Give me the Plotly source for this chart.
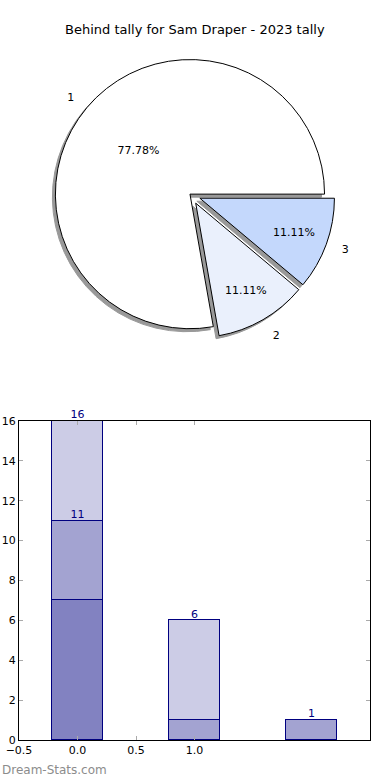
import plotly.graph_objects as go

# ---- data ----
pie_labels = ["1", "2", "3"]
pie_values = [7, 1, 1]
pie_colors = ["#FFFFFF", "#EAF0FC", "#C4D8FC"]
pie_pull = [0.01, 0.07, 0.07]

bar_x = [0, 1, 2]
seg_dark = [7, 0, 0]
seg_mid = [4, 1, 1]
seg_light = [5, 5, 0]
label_x = [0, 0, 1, 2]
label_y = [16, 11, 6, 1]
label_text = ["16", "11", "6", "1"]

x_tickvals = [-0.5, 0.0, 0.5, 1.0]
x_ticktext = ["\u22120.5", "0.0", "0.5", "1.0"]
y_tickvals = [0, 2, 4, 6, 8, 10, 12, 14, 16]

W, H = 390, 780
FONT = "DejaVu Sans"

def fx(px):
    return px / W

def fy(py):
    return 1 - py / H

fig = go.Figure()

# pie geometry (pixels)
cx, cy, half = 191, 195, 144
dom_x = [fx(cx - half), fx(cx + half)]
dom_y = [fy(cy + half), fy(cy - half)]
lh = half * 1.09
lab_x = [fx(cx - lh), fx(cx + lh)]
lab_y = [fy(cy + lh), fy(cy - lh)]
sh = 3
ROT = 170
# shadow
fig.add_trace(go.Pie(
    labels=pie_labels, values=pie_values, sort=False, direction="counterclockwise",
    rotation=ROT, pull=pie_pull,
    marker=dict(colors=["#999999"] * 3, line=dict(color="#999999", width=1)),
    textinfo="none", hoverinfo="skip", showlegend=False,
    domain=dict(x=[fx(cx - half - sh), fx(cx + half - sh)], y=[fy(cy + half + sh), fy(cy - half + sh)]),
))
# main pie, percentages inside
fig.add_trace(go.Pie(
    labels=pie_labels, values=pie_values, sort=False, direction="counterclockwise",
    rotation=ROT, pull=pie_pull,
    marker=dict(colors=pie_colors, line=dict(color="#000000", width=1)),
    texttemplate="%{percent:.2%}", textposition="inside", insidetextorientation="horizontal",
    textfont=dict(family=FONT, size=11, color="#000000"),
    showlegend=False, domain=dict(x=dom_x, y=dom_y),
))
# outside labels
fig.add_trace(go.Pie(
    labels=pie_labels, values=pie_values, sort=False, direction="counterclockwise",
    rotation=ROT, pull=pie_pull,
    marker=dict(colors=["rgba(0,0,0,0)"] * 3, line=dict(width=0)),
    textinfo="label", textposition="outside",
    textfont=dict(family=FONT, size=11, color="#000000"),
    hoverinfo="skip", showlegend=False, domain=dict(x=lab_x, y=lab_y),
))

# stacked bars
for vals, col in [(seg_dark, "rgba(0,0,128,0.49)"), (seg_mid, "rgba(0,0,128,0.36)"), (seg_light, "rgba(0,0,128,0.2)")]:
    fig.add_trace(go.Bar(
        x=bar_x, y=vals, width=0.44,
        marker=dict(color=col, line=dict(color="#000080", width=1)),
        showlegend=False, xaxis="x", yaxis="y",
    ))

fig.add_trace(go.Scatter(
    x=label_x, y=label_y, text=label_text, mode="text", textposition="top center",
    textfont=dict(family=FONT, size=11, color="#000080"),
    showlegend=False, cliponaxis=False, xaxis="x", yaxis="y", hoverinfo="skip",
))

axis_common = dict(
    showline=True, linecolor="#000000", linewidth=1, mirror="ticks",
    ticks="inside", ticklen=4, tickcolor="#AAAAAA", showgrid=False, zeroline=False,
    automargin=False,
    tickfont=dict(family=FONT, size=11, color="#000000"),
)

fig.update_layout(
    width=W, height=H, margin=dict(l=0, r=0, t=0, b=0, autoexpand=False),
    paper_bgcolor="#FFFFFF", plot_bgcolor="#FFFFFF",
    barmode="stack", bargap=0,
    font=dict(family=FONT, size=11, color="#000000"),
    xaxis=dict(domain=[fx(19), fx(370)], range=[-0.5, 2.5], anchor="y",
               tickvals=x_tickvals, ticktext=x_ticktext, **axis_common),
    yaxis=dict(domain=[fy(740), fy(421)], range=[0, 16], anchor="x",
               tickvals=y_tickvals, **axis_common),
    annotations=[
        dict(text="Behind tally for Sam Draper - 2023 tally", x=0.5, y=fy(30),
             xref="paper", yref="paper", showarrow=False, xanchor="center", yanchor="middle",
             font=dict(family=FONT, size=13, color="#000000")),
        dict(text="Dream-Stats.com", x=0, y=fy(770),
             xref="paper", yref="paper", showarrow=False, xanchor="left", yanchor="middle",
             font=dict(family=FONT, size=12, color="#8C8C8C")),
    ],
)

fig.write_html("out.html", config={"displayModeBar": False},
               post_script="document.body.style.margin='0';")
